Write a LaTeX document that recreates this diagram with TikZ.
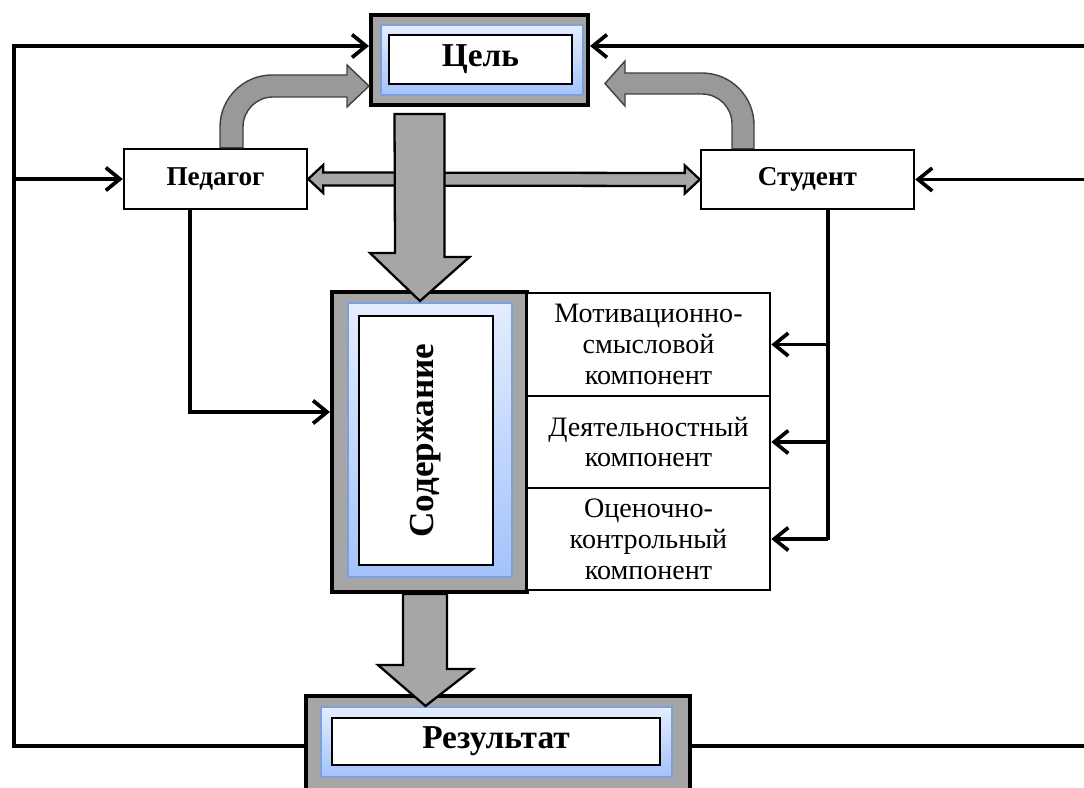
\documentclass[tikz,border=0pt]{standalone}
\usepackage{fontspec}
\setmainfont{Liberation Serif}
\usetikzlibrary{arrows.meta,calc}

\definecolor{frameGray}{HTML}{A6A6A6}
\definecolor{curveGray}{HTML}{999999}
\definecolor{blueTop}{HTML}{E4EDFF}
\definecolor{blueBot}{HTML}{A4C2FA}
\definecolor{blueEdge}{HTML}{7DA0DC}

\tikzset{
  frame/.style={draw=black, line width=2.3pt, fill=frameGray, inner sep=0pt},
  glass/.style={draw=blueEdge, line width=0.8pt, top color=blueTop, bottom color=blueBot, inner sep=0pt},
  plate/.style={draw=black, line width=1.5pt, fill=white, inner sep=0pt},
  actor/.style={draw=black, line width=1.4pt, fill=white, inner sep=0pt,
    font=\bfseries\fontsize{15.5}{17}\selectfont},
  part/.style={draw=black, line width=1.5pt, fill=white, inner sep=0pt, align=center,
    minimum width=4.86cm, font=\fontsize{16}{17.6}\selectfont},
  conn/.style={line width=2.1pt, -{Straight Barb[length=8pt,width=13pt]}},
  wire/.style={line width=2.1pt},
  bigarrow/.style={draw=black, line width=1.3pt, fill=frameGray, line join=miter},
  bendarrow/.style={draw=black!75, line width=0.8pt, fill=curveGray},
}

\begin{document}
\begin{tikzpicture}[x=0.02cm,y=-0.02cm]
\useasboundingbox (0,0) rectangle (1084,787);

% goal block
\node[frame, minimum width=4.34cm, minimum height=1.8cm] (celOuter) at (479.5,60) {};
\node[glass, minimum width=4.04cm, minimum height=1.4cm] (celBlue) at (482,60) {};
\node[plate, minimum width=3.66cm, minimum height=0.98cm,
  font=\bfseries\fontsize{19}{21}\selectfont] (cel) at (480.5,59.5) {Цель};

% content block
\node[frame, minimum width=3.9cm, minimum height=6cm] (sodOuter) at (429.5,442) {};
\node[glass, minimum width=3.28cm, minimum height=5.48cm] (sodBlue) at (430,440) {};
\node[plate, minimum width=4.98cm, minimum height=2.68cm, rotate=90,
  font=\bfseries\fontsize{20}{22}\selectfont] (sod) at (426,440.5) {Содержание};

% result block
\node[frame, minimum width=7.68cm, minimum height=1.92cm] (rezOuter) at (498,744) {};
\node[glass, minimum width=7.02cm, minimum height=1.4cm] (rezBlue) at (496.5,742) {};
\node[plate, minimum width=6.56cm, minimum height=0.94cm,
  font=\bfseries\fontsize{19}{21}\selectfont] (rez) at (496,741.5) {Результат};

% participants
\node[actor, minimum width=3.66cm, minimum height=1.2cm] (ped) at (215.5,179) {Педагог};
\node[actor, minimum width=4.26cm, minimum height=1.18cm] (stud) at (807.5,179.5) {Студент};

% components
\node[part, minimum height=2.06cm] (mot) at (648.5,344.5) {Мотивационно-\\смысловой\\компонент};
\node[part, minimum height=1.84cm] (deyat) at (648.5,442) {Деятельностный\\компонент};
\node[part, minimum height=2.04cm] (ocen) at (648.5,539) {Оценочно-\\контрольный\\компонент};

% feedback lines
\coordinate (lt) at (14,46);
\coordinate (rt) at (1084,46);
\coordinate (rm) at (1084,179);
\coordinate (rb) at (1084,746);
\coordinate (pd) at (190,412);
\coordinate (sd) at (828,540);

\draw[conn] (rezOuter.west |- rb) -| (lt) -- (lt -| celOuter.west);
\draw[conn] (lt |- ped.west) -- (ped.west);
\draw[conn] (rt) -- (rt -| celOuter.east);
\draw[conn] (rm |- stud.east) -- (stud.east);
\draw[wire] (rezOuter.east |- rb) -- (rb);
\draw[conn] (ped.south -| pd) -- (pd) -- (pd -| sodOuter.west);
\draw[wire] (stud.south -| sd) -- (sd);
\foreach \c in {mot,deyat,ocen}
  \draw[conn] (\c.east -| sd) -- (\c.east);

% block arrows
\draw[bigarrow] (ped.east) -- ++(15,-14) -- ++(0,7.5) -- ($(stud.west)+(-15,-6.5)$)
  -- ++(0,-7.5) -- (stud.west) -- ++(-15,14) -- ++(0,-7.5)
  -- ($(ped.east)+(15,6.5)$) -- ++(0,7.5) -- cycle;
\draw[bigarrow] ($(celOuter.south)+(-85,7)$) -- ++(50,0) -- ++(0,143) -- ++(25,0)
  -- ($(sodOuter.north)+(-9.5,11)$) -- ++(-50,-48) -- ++(25,0) -- cycle;
\draw[bigarrow] ($(sodOuter.south)+(-26.5,0)$) -- ++(44,0) -- ++(0,75) -- ++(26,0)
  -- ($(rezOuter.north)+(-72.5,12)$) -- ++(-47.5,-41) -- ++(25,0) -- cycle;

% bent arrows to the goal
\draw[bendarrow] (ped.north -| 220,0) -- (220,127) .. controls (220,98.3) and (243.3,75) .. (272,75)
  -- (347,75) -- (347,65) -- (369,86) -- (347,107) -- (347,97) -- (273,97)
  .. controls (256.4,97) and (243,110.4) .. (243,127) -- (ped.north -| 243,0) -- cycle;
\draw[bendarrow] (stud.north -| 754,0) -- (754,125) .. controls (754,96.3) and (730.7,73) .. (702,73)
  -- (625,73) -- (625,61) -- (605,83.5) -- (625,106) -- (625,94) -- (702,94)
  .. controls (718.6,94) and (732,107.4) .. (732,124) -- (stud.north -| 732,0) -- cycle;
\end{tikzpicture}
\end{document}
